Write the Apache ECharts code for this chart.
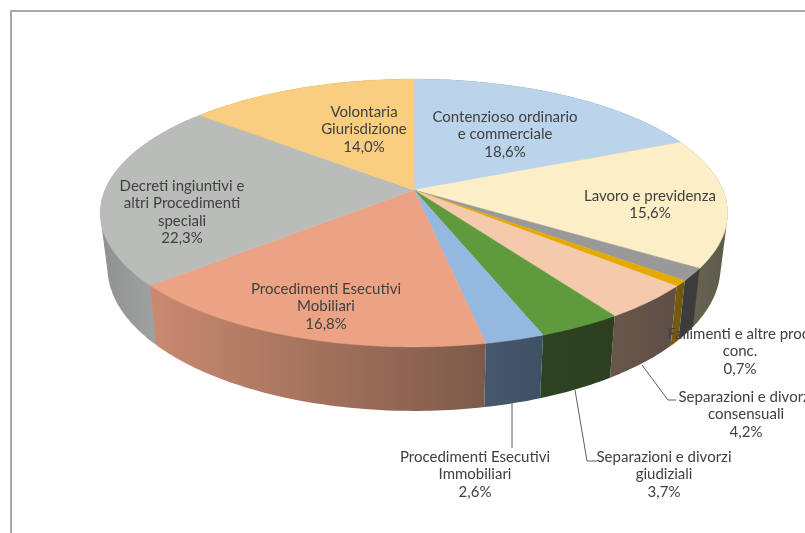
<!DOCTYPE html>
<html>
<head>
<meta charset="utf-8">
<style>
    html,body{margin:0;padding:0;background:#fff;overflow:hidden;}
    #main{width:805px;height:533px;}
</style>
</head>
<body>
<div id="main"></div>
<script src="https://cdn.jsdelivr.net/npm/echarts@6/dist/echarts.min.js"></script>
<script>
// clockwise from 12 o'clock; the grey slice has no label in the original
const categories = [
    ['Contenzioso ordinario', 'e commerciale'],
    ['Lavoro e previdenza'],
    [],
    ['Fallimenti e altre proc.', 'conc.'],
    ['Separazioni e divorzi', 'consensuali'],
    ['Separazioni e divorzi', 'giudiziali'],
    ['Procedimenti Esecutivi', 'Immobiliari'],
    ['Procedimenti Esecutivi', 'Mobiliari'],
    ['Decreti ingiuntivi e', 'altri Procedimenti', 'speciali'],
    ['Volontaria', 'Giurisdizione']
];
const values = [18.6, 15.6, 1.5, 0.7, 4.2, 3.7, 2.6, 16.8, 22.3, 14.0];

const topColors = ['#BBD4EB', '#FCEEC6', '#999999', '#E5AA00', '#F5C9AB', '#5F9A3D', '#94B8E0', '#EBA384', '#BABCBA', '#F9CE80'];
const wallColors = [
    ['#5c6b78', '#5c6b78'], ['#6c6856', '#5e5a4a'], ['#3c3c3c', '#3c3c3c'], ['#7d5f0a', '#6e5410'],
    ['#6a574b', '#5e4e44'], ['#2e4321', '#2c3f20'], ['#46586c', '#3f5064'],
    ['#c98a70', '#7d5a4a'], ['#8f9090', '#b0b0b0'], ['#888888', '#888888']
];

// centre x, first line y of each label
const labelPos = [[505, 116], [650, 195], null, [740, 333], [746, 396], [664, 456], [475, 456], [326, 288], [182, 185], [364, 111]];
const leaders = [
    [[642, 365], [668, 400], [676, 400]],
    [[575, 390], [587, 461], [597, 461]],
    [[512, 403], [512, 448]]
];

// perspective of the tilted disc, fitted to the picture
const cx = 414, cy = 190, R = 309, A = 130, K = 0.1716, DEPTH = 53, SHRINK = 0.977;
const total = values.reduce((a, b) => a + b, 0);

function project(theta, lower) {
    const u = Math.sin(theta), v = Math.cos(theta), w = 1 + K * v;
    const x = R * u / w, y = -A * v / w;
    if (!lower) return [cx + x, cy + y];
    return [cx + x * SHRINK, cy + y + DEPTH / w];
}
function sliceAngles(i) {
    let before = 0;
    for (let k = 0; k < i; k++) before += values[k];
    return [before / total * 2 * Math.PI, (before + values[i]) / total * 2 * Math.PI];
}
function arc(a0, a1, lower) {
    const pts = [], n = Math.max(4, Math.ceil((a1 - a0) * 60));
    for (let k = 0; k <= n; k++) pts.push(project(a0 + (a1 - a0) * k / n, lower));
    return pts;
}
function convexHull(points) {
    const pts = points.slice().sort((p, q) => p[0] - q[0] || p[1] - q[1]);
    const cross = (o, a, b) => (a[0] - o[0]) * (b[1] - o[1]) - (a[1] - o[1]) * (b[0] - o[0]);
    const half = list => {
        const out = [];
        list.forEach(p => {
            while (out.length > 1 && cross(out[out.length - 2], out[out.length - 1], p) <= 0) out.pop();
            out.push(p);
        });
        out.pop();
        return out;
    };
    return half(pts).concat(half(pts.slice().reverse()));
}

// hull of both arcs fills up to the silhouette; the top faces and nearer walls hide the excess
function renderWall(params) {
    const i = params.dataIndex, a = sliceAngles(i);
    const pts = convexHull(arc(a[0], a[1], false).concat(arc(a[0], a[1], true)));
    return {
        type: 'polygon',
        z2: Math.round(-Math.cos((a[0] + a[1]) / 2) * 100),
        shape: {points: pts},
        style: {fill: new echarts.graphic.LinearGradient(0, 0, 1, 0, [
            {offset: 0, color: wallColors[i][0]}, {offset: 1, color: wallColors[i][1]}
        ])}
    };
}
function renderTop(params) {
    const i = params.dataIndex, a = sliceAngles(i);
    const pts = [[cx, cy]].concat(arc(a[0], a[1], false));
    return {type: 'polygon', shape: {points: pts}, style: {fill: topColors[i], stroke: topColors[i], lineWidth: 0.5}};
}
function renderLabel(params, api) {
    const i = params.dataIndex;
    if (!labelPos[i]) return {type: 'group', children: []};
    const lines = categories[i].concat(api.value(0).toFixed(1).replace('.', ',') + '%');
    return {
        type: 'text',
        style: {
            x: labelPos[i][0], y: labelPos[i][1] - 8,
            text: lines.join('\n'), align: 'center', verticalAlign: 'top',
            font: '15px Lato', lineHeight: 17.5, fill: '#404040'
        }
    };
}

const seriesData = values.map(v => [v]);
const myChart = echarts.init(document.getElementById('main'));
myChart.setOption({
    animation: false,
    backgroundColor: '#fff',
    graphic: {
        elements: [
            {type: 'polyline', z: 0, silent: true, shape: {points: [[11, 533], [11, 11], [805, 11]]}, style: {stroke: '#a8a8a8', lineWidth: 2, fill: null}}
        ].concat(leaders.map(p => ({type: 'polyline', z: 10, silent: true, shape: {points: p}, style: {stroke: '#5f5f5f', lineWidth: 1, fill: null}})))
    },
    series: [
        {type: 'custom', coordinateSystem: 'none', silent: true, z: 1, data: seriesData, renderItem: renderWall},
        {type: 'custom', coordinateSystem: 'none', silent: true, z: 2, data: seriesData, renderItem: renderTop},
        {type: 'custom', coordinateSystem: 'none', silent: true, z: 3, data: seriesData, renderItem: renderLabel}
    ]
});
</script>
</body>
</html>
